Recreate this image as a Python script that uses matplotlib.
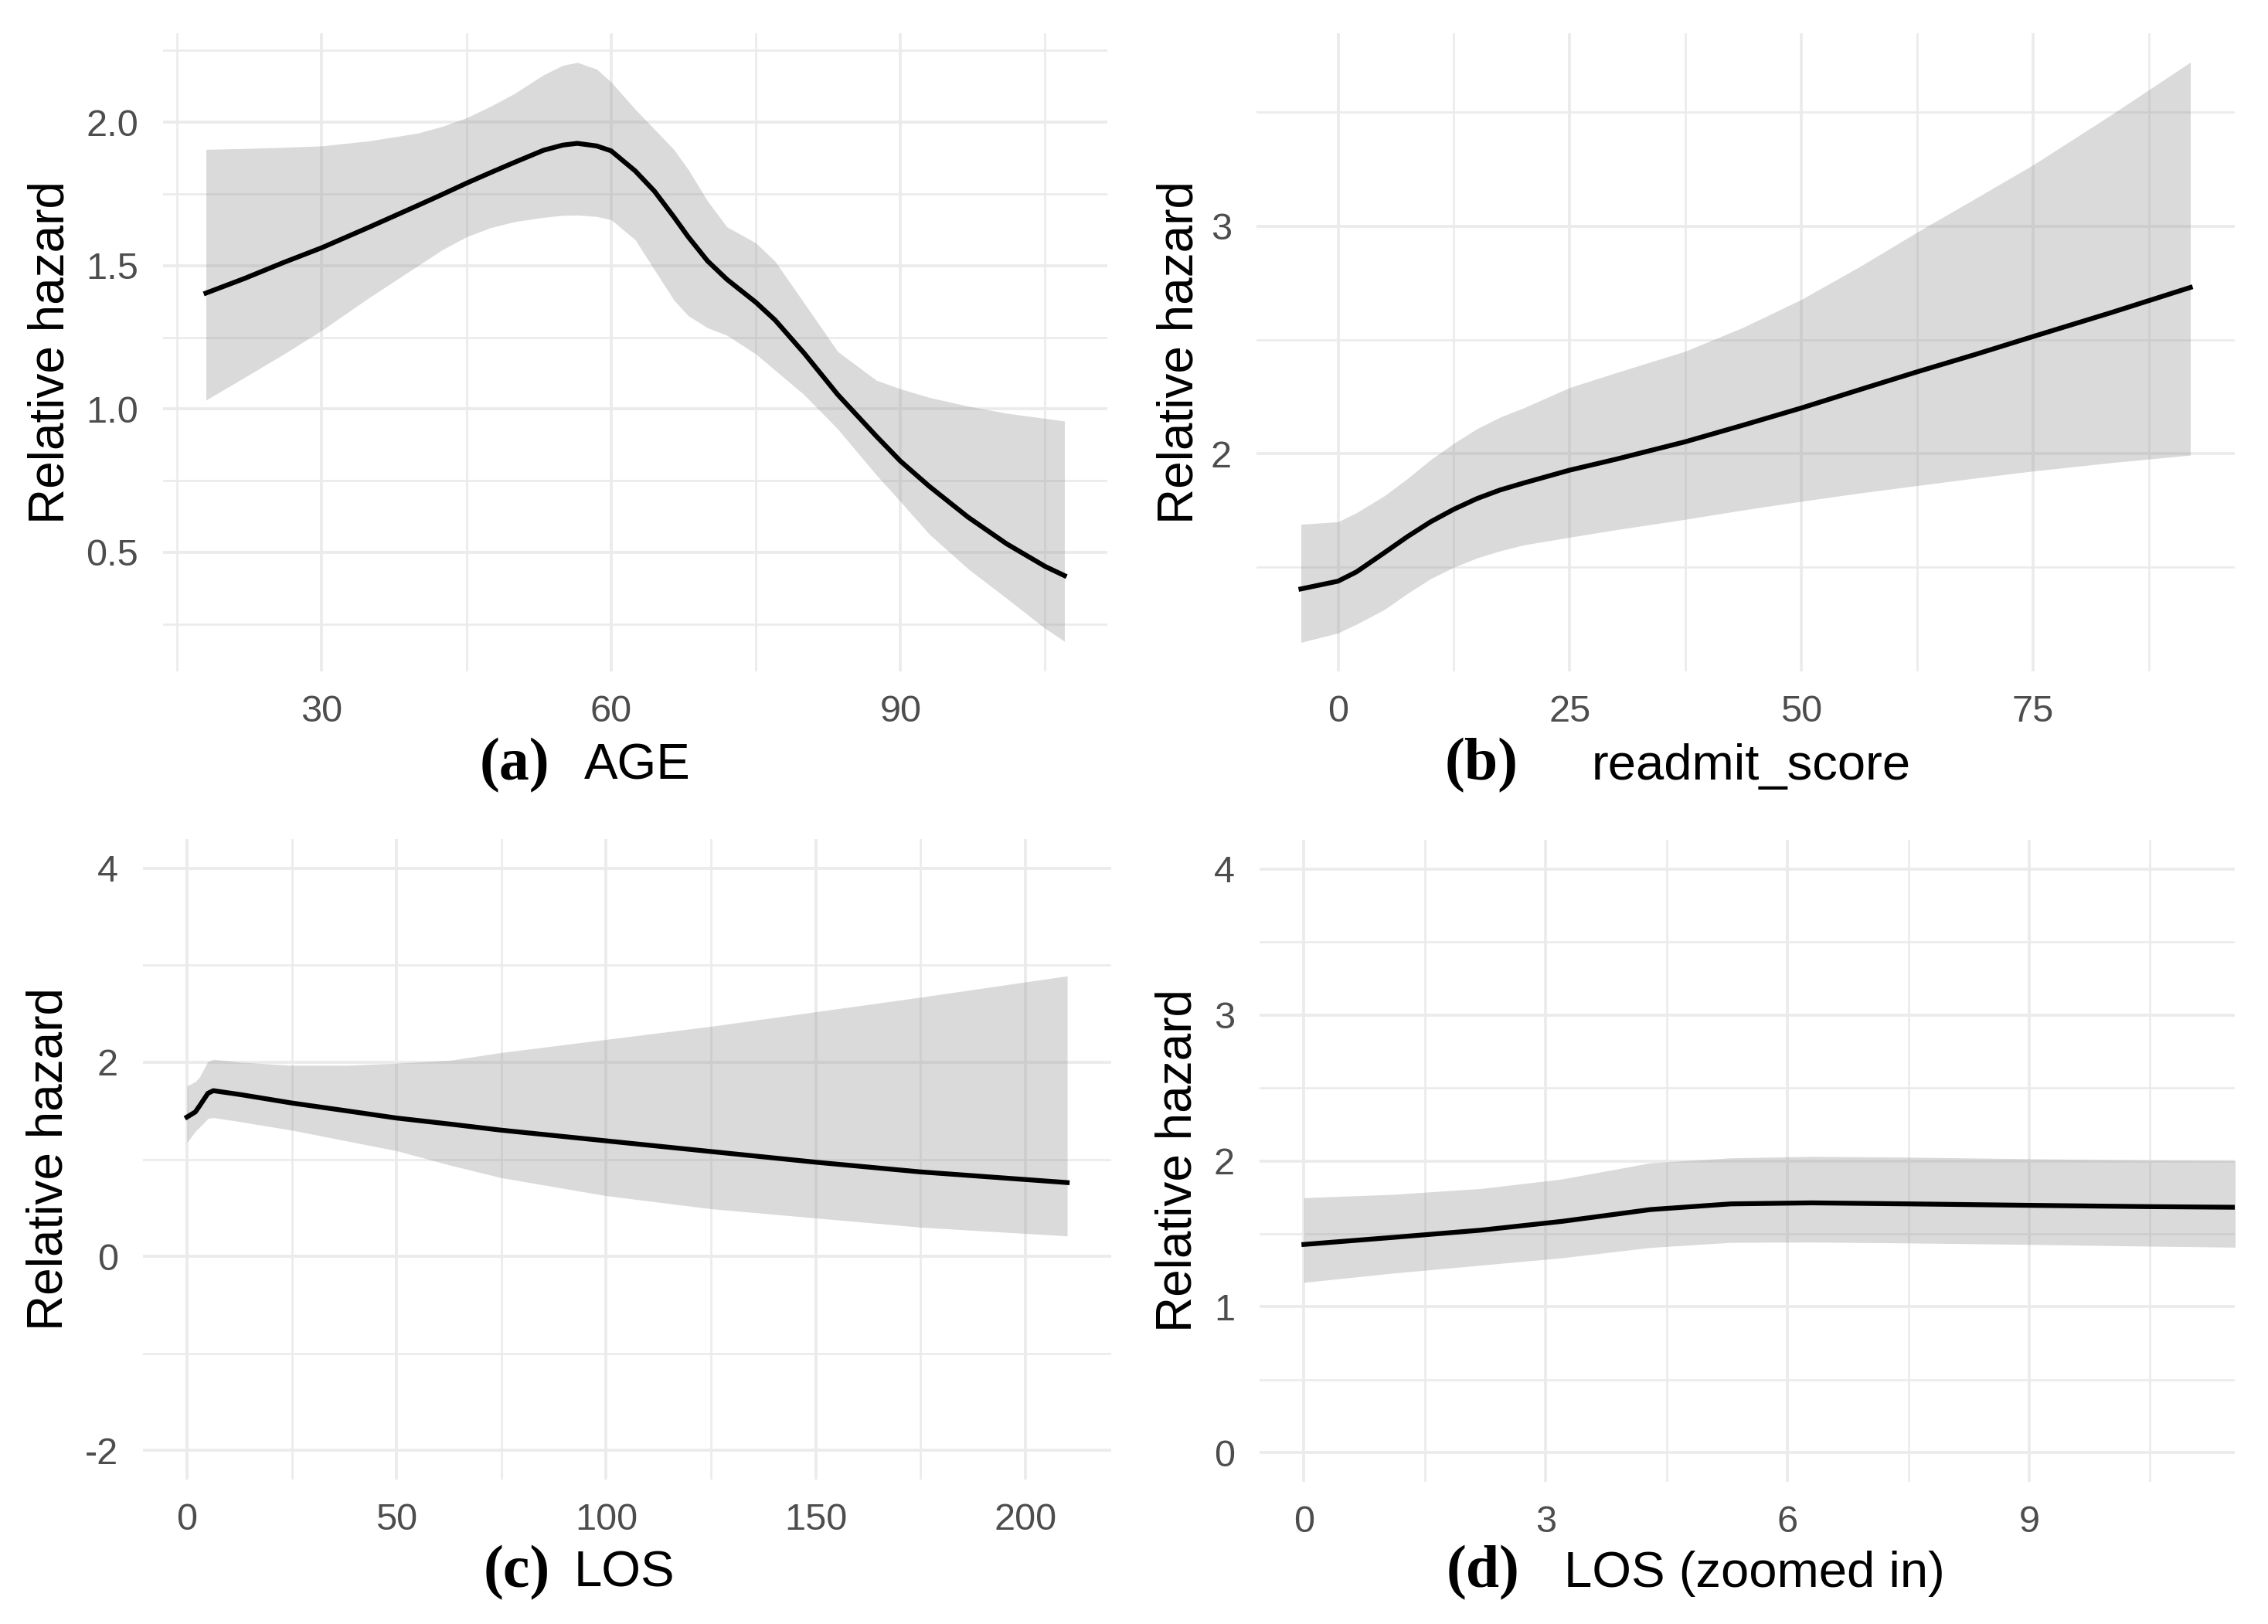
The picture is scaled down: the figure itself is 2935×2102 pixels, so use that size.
import numpy as np
import matplotlib
matplotlib.use("Agg")
import matplotlib.pyplot as plt

plt.rcParams['font.family'] = ['Liberation Sans', 'DejaVu Sans']

# --- (a) AGE ---
age_x = [18, 22, 26, 30, 35, 40, 42.5, 45, 47.5, 50, 53, 55, 56.5, 58.5, 60, 62.5, 64.5, 66.5,
         68, 70, 72, 75, 77, 80, 83.5, 87.5, 90, 93, 97, 101, 105, 107]
age_fit = [1.404, 1.455, 1.51, 1.562, 1.635, 1.71, 1.748, 1.787, 1.824, 1.86, 1.902, 1.920,
           1.926, 1.917, 1.90, 1.83, 1.759, 1.67, 1.60, 1.516, 1.452, 1.372, 1.31, 1.195,
           1.05, 0.905, 0.818, 0.73, 0.623, 0.53, 0.451, 0.419]
age_hi = [1.905, 1.908, 1.912, 1.917, 1.935, 1.962, 1.985, 2.015, 2.055, 2.10, 2.165, 2.198,
          2.208, 2.185, 2.14, 2.045, 1.975, 1.905, 1.835, 1.725, 1.635, 1.579, 1.515, 1.37,
          1.20, 1.10, 1.07, 1.04, 1.01, 0.985, 0.967, 0.958]
age_lo = [1.031, 1.11, 1.19, 1.274, 1.39, 1.50, 1.555, 1.600, 1.632, 1.653, 1.668, 1.675,
          1.676, 1.671, 1.660, 1.59, 1.485, 1.38, 1.325, 1.283, 1.257, 1.192, 1.135, 1.05,
          0.93, 0.77, 0.677, 0.563, 0.443, 0.34, 0.235, 0.19]

# --- (b) readmit_score ---
score_x = [-4, 0, 2, 5, 7.5, 10, 12.5, 15, 17.5, 20, 25, 30, 37.5, 43.75, 50, 56.25, 62.5,
           68.75, 75, 83.5, 92]
score_fit = [1.405, 1.439, 1.48, 1.564, 1.635, 1.70, 1.755, 1.802, 1.84, 1.87, 1.927, 1.975,
             2.052, 2.125, 2.20, 2.28, 2.359, 2.435, 2.514, 2.62, 2.73]
score_hi = [1.689, 1.70, 1.74, 1.814, 1.89, 1.973, 2.045, 2.109, 2.16, 2.20, 2.29, 2.355,
            2.45, 2.555, 2.677, 2.82, 2.973, 3.12, 3.268, 3.49, 3.72]
score_lo = [1.17, 1.211, 1.25, 1.314, 1.385, 1.45, 1.50, 1.541, 1.572, 1.598, 1.632, 1.665,
            1.711, 1.752, 1.79, 1.826, 1.859, 1.892, 1.923, 1.96, 1.993]

# --- (c) LOS ---
los_x = [0, 2, 3, 5, 6.3, 13, 25, 38, 50, 62.7, 75, 100, 125, 150, 175, 210]
los_fit = [1.435, 1.488, 1.55, 1.68, 1.707, 1.665, 1.58, 1.50, 1.425, 1.363, 1.30, 1.19,
           1.08, 0.97, 0.87, 0.76]
los_hi = [1.755, 1.80, 1.848, 2.008, 2.03, 2.0, 1.968, 1.968, 1.99, 2.02, 2.10, 2.235,
          2.37, 2.52, 2.67, 2.89]
los_lo = [1.173, 1.288, 1.33, 1.42, 1.43, 1.385, 1.30, 1.19, 1.088, 0.94, 0.81, 0.625,
          0.49, 0.395, 0.30, 0.21]

# --- (d) LOS zoomed in ---
losz_x = [0, 1.1, 2.2, 3.2, 4.3, 5.3, 6.3, 7.5, 9, 10.5, 12]
losz_fit = [1.427, 1.475, 1.525, 1.585, 1.666, 1.705, 1.712, 1.705, 1.695, 1.686, 1.68]
losz_hi = [1.747, 1.77, 1.81, 1.875, 1.986, 2.02, 2.03, 2.025, 2.014, 2.005, 2.0]
losz_lo = [1.167, 1.23, 1.285, 1.335, 1.406, 1.441, 1.443, 1.437, 1.427, 1.415, 1.405]

age_xticks = [30, 60, 90]
age_yticks = [0.5, 1.0, 1.5, 2.0]
age_ylabels = ['0.5', '1.0', '1.5', '2.0']
score_xticks = [0, 25, 50, 75]
score_yticks = [2, 3]
los_xticks = [0, 50, 100, 150, 200]
los_yticks = [-2, 0, 2, 4]
los_ylabels = ['-2', '0', '2', '4']
losz_xticks = [0, 3, 6, 9]
losz_yticks = [0, 1, 2, 3, 4]

captions = [('(a)', 'AGE'), ('(b)', 'readmit_score'), ('(c)', 'LOS'), ('(d)', 'LOS (zoomed in)')]

W, H = 2935, 2102
fig = plt.figure(figsize=(W / 100, H / 100), dpi=100)
GRID = '#EBEBEB'
TICK = '#4D4D4D'


def px_axes(x0, y0, x1, y1):
    return fig.add_axes([x0 / W, 1 - y1 / H, (x1 - x0) / W, (y1 - y0) / H])


def draw_panel(box, x, fit, lo, hi, xlim, ylim, xt, xminor, yt, yminor, ylabels=None, label_x=96):
    ax = px_axes(*box)
    ax.fill_between(x, lo, hi, color='#999999', alpha=0.36, linewidth=0)
    ax.plot(x, fit, color='black', lw=4.5, solid_joinstyle='round')
    ax.set_xlim(xlim)
    ax.set_ylim(ylim)
    ax.set_xticks(xt)
    ax.set_xticks(xminor, minor=True)
    ax.set_yticks(yt)
    ax.set_yticks(yminor, minor=True)
    ax.set_xticklabels([str(v) for v in xt])
    ax.set_yticklabels(ylabels if ylabels else [str(v) for v in yt])
    for s in ax.spines.values():
        s.set_visible(False)
    ax.tick_params(which='both', length=0)
    ax.tick_params(axis='x', pad=21.6, labelsize=35, labelcolor=TICK)
    ax.tick_params(axis='y', pad=23, labelsize=35, labelcolor=TICK)
    ax.grid(which='major', color=GRID, lw=2.7)
    ax.grid(which='minor', color=GRID, lw=1.9)
    ax.set_axisbelow(True)
    ax.set_ylabel('Relative hazard', fontsize=46, color='black')
    ax.yaxis.set_label_coords((label_x - box[0]) / (box[2] - box[0]), 0.5)
    return ax


draw_panel((211, 43, 1433, 869), age_x, age_fit, age_lo, age_hi,
           (13.55, 111.45), (0.085, 2.31), age_xticks, [15, 45, 75, 105],
           age_yticks, [0.25, 0.75, 1.25, 1.75, 2.25], age_ylabels, label_x=96)
draw_panel((1626, 43, 2892, 869), score_x, score_fit, score_lo, score_hi,
           (-8.8, 96.8), (1.0425, 3.8475), score_xticks, [12.5, 37.5, 62.5, 87.5],
           score_yticks, [1.5, 2.5, 3.5], label_x=1556)
draw_panel((185, 1086, 1438, 1915), los_x, los_fit, los_lo, los_hi,
           (-10.5, 220.5), (-2.3, 4.3), los_xticks, [25, 75, 125, 175],
           los_yticks, [-1, 1, 3], los_ylabels, label_x=94)
draw_panel((1630, 1087, 2892, 1918), losz_x, losz_fit, losz_lo, losz_hi,
           (-0.55, 11.55), (-0.2, 4.2), losz_xticks, [1.5, 4.5, 7.5, 10.5],
           losz_yticks, [0.5, 1.5, 2.5, 3.5], label_x=1554)

# captions under each sub-figure
cap_pos = [(621, 756, 1009), (1870, 2060, 1009), (626, 743, 2054), (1872, 2024, 2054)]
for (tag, name), (xt, xn, yb) in zip(captions, cap_pos):
    fig.text(xt / W, 1 - yb / H, tag, fontfamily='Liberation Serif', fontweight='bold',
             fontsize=56, ha='left', va='baseline')
    fig.text(xn / W, 1 - yb / H, name, fontsize=47, ha='left', va='baseline')

fig.savefig('out.png', dpi=100)
